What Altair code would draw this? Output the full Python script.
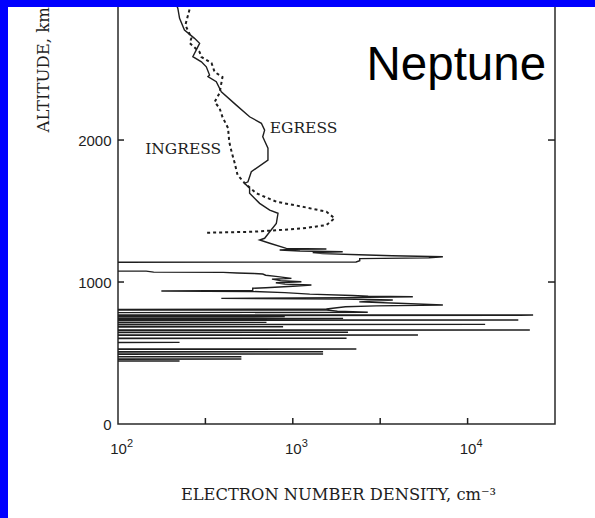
import altair as alt
import pandas as pd

# ---- EGRESS (solid) profile: altitude [km], electron density [cm^-3] ----
egress_alt = [2960, 2927, 2857, 2775, 2716, 2681, 2587, 2551, 2516, 2458, 2446, 2411,
              2340, 2246, 2164, 2118, 2070, 2023, 1942, 1859, 1777, 1706, 1695, 1660,
              1625, 1554, 1507, 1484, 1413, 1354, 1308, 1296, 1273, 1237, 1233, 1230,
              1225, 1218, 1213, 1208, 1200, 1192, 1185, 1178, 1170, 1165, 1150, 1141,
              1139]
egress_dens = [215, 220, 225, 240, 274, 293, 268, 300, 320, 334, 327, 365,
               390, 475, 566, 661, 690, 673, 721, 721, 579, 554, 530, 566,
               566, 646, 738, 823, 805, 738, 690, 646, 738, 918, 1557, 1000,
               841, 1100, 1930, 1300, 1480, 2400, 3700, 7220, 6000, 2415, 2415, 2300,
               60]

# ---- lower ionospheric layers (continuation of the solid profile) ----
layer_alt = [1077, 1077, 1070, 1068, 1064, 1060, 1056, 1048, 1040, 1026, 1020, 1010,
             1002, 995, 985, 979, 970, 960, 956, 940, 937, 933, 925, 915,
             905, 900, 896, 890, 885, 880, 873, 860, 850, 838, 832, 826,
             810, 806, 803, 803, 795, 787, 784,
             768, 768, 765, 763, 757, 756, 754, 744, 744, 742, 732, 732, 729,
             716, 716, 714, 702, 702, 699, 685, 685, 683, 662, 662, 659,
             646, 646, 644, 627, 627, 624, 604, 604, 602, 575, 575, 573,
             528, 528, 525, 509, 509, 507, 493, 493, 491, 474, 474, 472,
             458, 458, 456, 444, 444, 442]
layer_dens = [60, 145, 160, 400, 480, 600, 673, 700, 800, 982, 760, 850,
              1120, 800, 900, 1278, 1000, 700, 590, 590, 177, 590, 900, 1250,
              2200, 2700, 4860, 2000, 390, 1930, 3733, 2400, 4000, 7220, 3000, 2000,
              1557, 60, 60, 1557, 1800, 2685, 60,
              60, 23700, 20000, 60, 60, 900, 60, 60, 1940, 60, 60, 19500, 60,
              60, 707, 60, 60, 12600, 60, 60, 880, 60, 60, 22700, 60,
              60, 2070, 60, 60, 5200, 60, 60, 2030, 60, 60, 225, 60,
              60, 2310, 60, 60, 1490, 60, 60, 1490, 60, 60, 508, 60,
              60, 508, 60, 60, 225, 60]

# ---- INGRESS (dashed) profile ----
ingress_alt = [2960, 2923, 2810, 2718, 2683, 2620, 2585, 2542, 2479, 2444, 2331, 2268,
               2225, 2162, 2085, 1986, 1915, 1838, 1754, 1697, 1625, 1565, 1530, 1495,
               1449, 1401, 1378, 1366, 1354, 1347]
ingress_dens = [262, 257, 243, 263, 257, 293, 300, 343, 357, 396, 381, 357,
                381, 396, 426, 433, 447, 465, 483, 530, 618, 808, 1140, 1557,
                1735, 1557, 1140, 841, 589, 320]

# ---- axes ----
y_label_values = [0, 1000, 2000]
y_tick_values = [1000, 2000]
x_label_values = [100, 1000, 10000]
x_label_exps = ["2", "3", "4"]
x_tick_values = [316.2, 1000, 3162, 10000]

# ---- annotations ----
curve_labels = ["EGRESS", "INGRESS"]
curve_label_dens = [738, 143]
curve_label_alt = [2088, 1940]

W, H = 437, 418
X_DOMAIN = [100, 31623]
Y_DOMAIN = [0, 2944]
INK = "#1e1e1e"
BLUE = "#0000FF"

xs = alt.Scale(type="log", domain=X_DOMAIN, nice=False)
ys = alt.Scale(domain=Y_DOMAIN, nice=False, zero=False)

solid_alt = egress_alt + layer_alt
solid_dens = egress_dens + layer_dens
eg = pd.DataFrame({"alt": solid_alt, "dens": solid_dens, "i": list(range(len(solid_alt)))})
ing = pd.DataFrame({"alt": ingress_alt, "dens": ingress_dens, "i": list(range(len(ingress_alt)))})

x_axis = alt.Axis(values=x_label_values, labelExpr="'10'", ticks=False, tickSize=0,
                  domain=False, grid=False, labelFont="Liberation Sans", labelFontSize=15,
                  labelColor=INK, labelBaseline="alphabetic", labelPadding=29,
                  labelFlush=False, labelOverlap=False,
                  title="ELECTRON NUMBER DENSITY, cm\u207b\u00b3", titleFont="DejaVu Serif",
                  titleFontSize=16.3, titleFontWeight="normal", titleColor=INK,
                  titleBaseline="alphabetic", titleAlign="center", titleX=220, titleY=75)
y_axis = alt.Axis(values=y_label_values, format="d", ticks=False, tickSize=0, domain=False,
                  grid=False, labelFont="Liberation Sans", labelFontSize=15, labelColor=INK,
                  labelPadding=7, labelBaseline="middle",
                  title="ALTITUDE, km", titleFont="DejaVu Serif", titleFontSize=16.5,
                  titleFontWeight="normal", titleColor=INK, titleAngle=270,
                  titleAlign="left", titleBaseline="middle", titleX=-75, titleY=126)


def X(field):
    return alt.X(field, type="quantitative", scale=xs, axis=x_axis)


def Y(field):
    return alt.Y(field, type="quantitative", scale=ys, axis=y_axis)


egress = alt.Chart(eg).mark_line(color=INK, strokeWidth=1.4, clip=True).encode(
    x=X("dens"), y=Y("alt"), order="i:Q")
ingress = alt.Chart(ing).mark_line(color=INK, strokeWidth=2, strokeDash=[3, 3], clip=True).encode(
    x=X("dens"), y=Y("alt"), order="i:Q")

ytk = pd.DataFrame({"alt": y_tick_values})
xtk = pd.DataFrame({"dens": x_tick_values})
left_ticks = alt.Chart(ytk).mark_rule(color=INK, strokeWidth=1.5).encode(
    y=Y("alt"), x=alt.value(0), x2=alt.value(6))
right_ticks = alt.Chart(ytk).mark_rule(color=INK, strokeWidth=1.5).encode(
    y=Y("alt"), x=alt.value(W - 7), x2=alt.value(W))
bottom_ticks = alt.Chart(xtk).mark_rule(color=INK, strokeWidth=1.5).encode(
    x=X("dens"), y=alt.value(H - 6), y2=alt.value(H))

sup = alt.Chart(pd.DataFrame({"dens": x_label_values, "t": x_label_exps})).mark_text(
    align="left", baseline="alphabetic", dx=9, font="Liberation Sans", fontSize=11, color=INK
).encode(x=X("dens"), y=alt.value(H + 23), text="t:N")

lab = alt.Chart(pd.DataFrame({"dens": curve_label_dens, "alt": curve_label_alt, "t": curve_labels})).mark_text(
    align="left", baseline="middle", font="DejaVu Serif", fontSize=15.5, color=INK
).encode(x=X("dens"), y=Y("alt"), text="t:N")

one = pd.DataFrame({"k": [0]})
neptune = alt.Chart(one).mark_text(
    align="left", baseline="alphabetic", font="Liberation Sans", fontSize=47.5, color="black"
).encode(x=alt.value(248.5), y=alt.value(74), text=alt.value("Neptune"))

top_band = alt.Chart(one).mark_rect(color=BLUE).encode(
    x=alt.value(-118), x2=alt.value(W + 40), y=alt.value(-6), y2=alt.value(1))
left_band = alt.Chart(one).mark_rect(color=BLUE).encode(
    x=alt.value(-118), x2=alt.value(-110), y=alt.value(-6), y2=alt.value(H + 94))

chart = alt.layer(
    egress, ingress, left_ticks, right_ticks, bottom_ticks, sup, lab, neptune, top_band, left_band
).properties(
    width=W, height=H, autosize="none",
    padding={"left": 118, "top": 6, "right": 40, "bottom": 94},
    background="white",
).configure_view(stroke="#2a2a2a", strokeWidth=1.5)

chart.save("out.html", embed_options={"renderer": "svg", "actions": False})
